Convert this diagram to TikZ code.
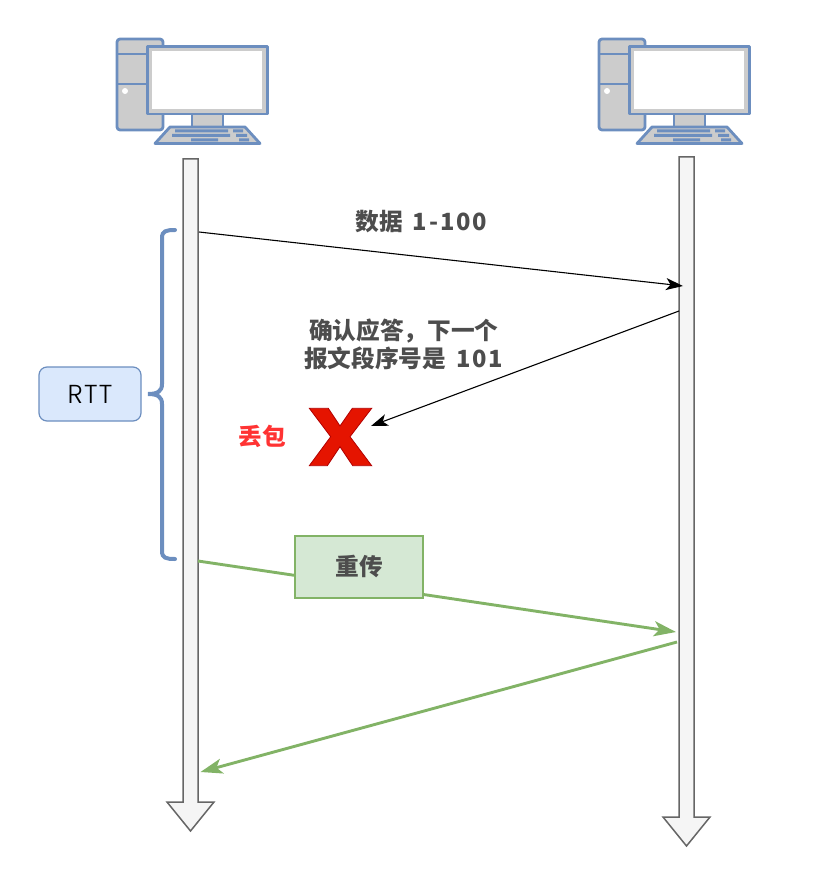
\documentclass[tikz,border=0pt]{standalone}
\usepackage{fontspec}
\newfontfamily\cjk{Noto Sans CJK SC}
\newfontfamily\cjknum[LetterSpace=8]{Noto Sans CJK SC}
\newfontfamily\rttfont[LetterSpace=5]{Poppins Light}
\usetikzlibrary{arrows.meta,shapes.arrows}
\definecolor{blueS}{HTML}{6C8EBF}
\definecolor{blueF}{HTML}{DAE8FC}
\definecolor{greenS}{HTML}{82B366}
\definecolor{greenF}{HTML}{D5E8D4}
\definecolor{pillarF}{HTML}{F5F5F5}
\definecolor{pillarS}{HTML}{666666}
\definecolor{txtgray}{HTML}{4D4D4D}
\definecolor{iconF}{HTML}{CCCCCC}
\definecolor{iconS}{HTML}{6C8EBF}
\definecolor{xF}{HTML}{E51400}
\definecolor{xS}{HTML}{B20000}
\tikzset{
  x=1pt,y=-1pt,
  msg/.style={font=\cjk\bfseries\fontsize{23.7}{28}\selectfont,text=txtgray,align=center,inner sep=0pt},
  pillar/.style={draw=pillarS,fill=pillarF,line width=1.5pt,line join=miter},
  blackarrow/.style={draw=black,line width=1.1pt,-{Stealth[length=17pt,width=12pt,inset=4.5pt]}},
  greenarrow/.style={draw=greenS,line width=2.9pt,-{Stealth[length=22pt,width=15pt,inset=5.5pt]}},
  iconpart/.style={draw=iconS,fill=iconF,line width=2.8pt,line join=round},
  keybar/.style={draw=none,fill=iconS},
  pics/computer/.style={code={
    \draw[iconpart,rounded corners=3pt] (117,39) rectangle (163,130);
    \draw[iconS,line width=2.8pt] (117,54) -- (147,54) (117,84) -- (147,84);
    \fill[white] (125,91) circle (3pt);
    \draw[iconpart] (192,114) rectangle (223,127);
    \draw[iconpart] (170,127) -- (245,127) -- (260,143.5) -- (155,143.5) -- cycle;
    \fill[keybar] (175,129.5) rectangle (228,132.5) (233,129.5) rectangle (243,132.5)
      (172,134) rectangle (230,137) (236,134) rectangle (247,137)
      (191,138.5) rectangle (218,141.5) (239,138.5) rectangle (249,141.5);
    \draw[iconpart] (147.5,46.5) rectangle (267.5,114);
    \fill[white] (152,51) rectangle (262,109);
  }}
}
\begin{document}
\begin{tikzpicture}
\useasboundingbox (0,0) rectangle (817,877);
\pic {computer};
\pic at (482,0) {computer};
% time lines
\draw[pillar] (183,159) -- (198,159) -- (198,802) -- (214,802) -- (190.5,831) -- (167,802) -- (183,802) -- cycle;
\draw[pillar] (679,157) -- (694,157) -- (694,817) -- (710,817) -- (686.5,846) -- (663,817) -- (679,817) -- cycle;
% anchors on the lines
\coordinate (dataS) at (199,232);
\coordinate (dataE) at (683,286);
\coordinate (ackS) at (679,311);
\coordinate (ackE) at (371,426);
\coordinate (reS) at (198,561);
\coordinate (reE) at (676,632);
\coordinate (backS) at (677,642);
\coordinate (backE) at (200.5,772);
% connectors
\draw[blackarrow] (dataS) -- (dataE);
\draw[blackarrow] (ackS) -- (ackE);
\draw[greenarrow] (reS) -- (reE);
\draw[greenarrow] (backS) -- (backE);
% brace
\draw[blueS,line width=4pt,line cap=round] (175,230) .. controls (166,230) and (162,231) .. (162,238)
  -- (162,384) .. controls (162,391) and (158,394) .. (148,394)
  .. controls (158,394) and (162,397) .. (162,404) -- (162,551)
  .. controls (162,558) and (166,559) .. (175,559);
% nodes
\node[draw=blueS,fill=blueF,line width=1.2pt,rounded corners=8pt,minimum width=102pt,minimum height=54pt,inner sep=0pt,font=\rttfont\fontsize{26}{30}\selectfont] (rtt) at (90,394) {RTT};
\node[draw=greenS,fill=greenF,line width=1.2pt,minimum width=128pt,minimum height=62pt,inner sep=0pt,font=\cjk\bfseries\fontsize{23.7}{28}\selectfont,text=txtgray] (retrans) at (359,567) {\raisebox{-2pt}{重传}};
\node[msg] (data) at (421.5,222) {数据\hspace{10pt}{\cjknum\bfseries 1-100}};
\node[msg] (ack) at (403.8,344) {确认应答，下一个\\报文段序号是\hspace{10pt}{\cjknum\bfseries 101}};
\node[msg,text=red!80!white] (loss) at (262,436) {丢包};
\draw[draw=xS,fill=xF,line width=0.8pt,line join=miter]
  (309.3,408.3) -- (328.3,408.3) -- (340,426) -- (352.3,408.3) -- (371.7,408.3) -- (350,436.7)
  -- (371.7,465.7) -- (352.7,465.7) -- (340,446.7) -- (327.3,465.7) -- (309.3,465.7) -- (330.7,436.7) -- cycle;
\end{tikzpicture}
\end{document}
